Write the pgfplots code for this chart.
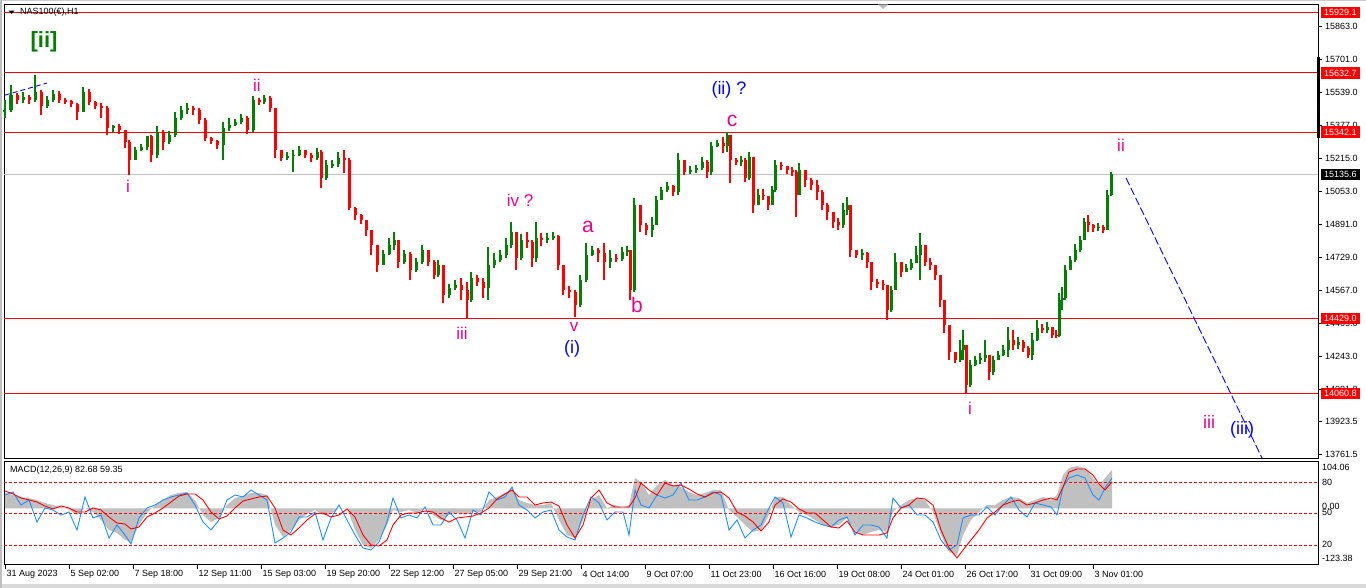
\documentclass[border=0pt]{standalone}
\usepackage{pgfplots}
\pgfplotsset{compat=1.18}
\usepackage{pgfplotstable}
\usepackage{fontspec}
\setmainfont{Liberation Sans}
\definecolor{upc}{RGB}{0,128,0}
\definecolor{dnc}{RGB}{255,0,0}
\definecolor{silv}{RGB}{192,192,192}
\definecolor{macdblue}{RGB}{30,144,255}
\definecolor{wavegreen}{RGB}{0,128,0}

\pgfplotstableread{
x o h l c
5 15441 15500 15412 15451
11 15451 15574 15441 15525
17 15525 15534 15480 15500
23 15500 15539 15485 15515
29 15515 15525 15480 15500
35 15500 15623 15490 15539
41 15539 15549 15427 15471
47 15471 15520 15461 15500
53 15500 15549 15490 15529
59 15529 15544 15485 15500
65 15500 15510 15480 15495
71 15495 15500 15466 15480
77 15480 15485 15402 15441
83 15441 15564 15441 15539
89 15539 15554 15476 15490
95 15490 15495 15456 15471
101 15471 15485 15412 15461
107 15461 15471 15329 15363
113 15363 15378 15343 15373
119 15373 15382 15333 15353
125 15353 15353 15265 15294
129 15294 15304 15133 15206
135 15206 15270 15206 15255
141 15255 15284 15250 15270
147 15270 15324 15255 15324
151 15324 15329 15196 15231
157 15231 15373 15216 15343
163 15343 15353 15255 15294
169 15294 15348 15284 15329
175 15329 15441 15319 15412
181 15412 15471 15402 15451
187 15451 15485 15431 15461
193 15461 15471 15427 15451
199 15451 15461 15382 15402
205 15402 15412 15299 15314
211 15314 15319 15284 15299
217 15299 15304 15260 15280
223 15280 15392 15206 15363
229 15363 15412 15348 15378
235 15378 15407 15373 15392
241 15392 15431 15382 15412
247 15412 15422 15333 15353
253 15353 15520 15343 15500
259 15500 15510 15476 15490
264 15490 15525 15480 15510
270 15510 15520 15441 15461
275 15461 15461 15216 15255
281 15255 15255 15201 15216
287 15216 15245 15206 15226
293 15226 15255 15147 15231
299 15231 15275 15226 15255
305 15255 15255 15216 15231
311 15231 15240 15196 15216
317 15216 15265 15206 15245
321 15245 15255 15069 15118
326 15118 15206 15108 15182
332 15182 15206 15167 15186
338 15186 15245 15172 15216
344 15216 15255 15142 15206
349 15206 15216 14961 14971
355 14971 14976 14912 14937
361 14937 14941 14892 14912
366 14912 14912 14834 14863
371 14863 14863 14741 14790
377 14790 14790 14657 14692
383 14692 14765 14692 14745
389 14745 14824 14741 14790
394 14790 14853 14765 14814
398 14814 14814 14677 14706
404 14706 14765 14696 14745
410 14745 14755 14618 14667
416 14667 14726 14657 14706
422 14706 14790 14696 14765
428 14765 14765 14687 14706
434 14706 14716 14623 14643
438 14643 14716 14633 14692
443 14692 14692 14505 14545
449 14545 14598 14530 14579
455 14579 14618 14569 14594
461 14594 14628 14520 14569
467 14569 14608 14432 14520
471 14520 14657 14510 14628
477 14628 14643 14589 14608
483 14608 14628 14530 14579
488 14579 14780 14520 14692
494 14692 14750 14677 14716
500 14716 14765 14706 14741
506 14741 14824 14726 14790
511 14790 14902 14775 14853
516 14853 14853 14667 14726
521 14726 14843 14716 14814
527 14814 14853 14775 14804
532 14804 14814 14682 14726
536 14726 14902 14706 14824
541 14824 14848 14785 14814
547 14814 14848 14799 14824
553 14824 14853 14814 14834
558 14834 14839 14667 14692
563 14692 14692 14545 14569
569 14569 14589 14530 14559
575 14559 14569 14437 14496
580 14496 14643 14486 14618
586 14618 14799 14608 14741
592 14741 14785 14736 14765
598 14765 14775 14706 14750
604 14750 14799 14618 14706
610 14706 14765 14677 14726
616 14726 14745 14706 14721
622 14721 14780 14711 14755
627 14755 14785 14736 14765
630 14765 14765 14520 14569
634 14569 15020 14559 14986
640 14986 14986 14853 14888
646 14888 14897 14839 14863
652 14863 14927 14829 14888
656 14888 15030 14888 15010
661 15010 15074 15010 15059
667 15059 15098 15049 15079
673 15079 15084 15030 15049
678 15049 15240 15035 15206
684 15206 15206 15133 15147
690 15147 15177 15137 15157
696 15157 15182 15142 15167
702 15167 15221 15157 15196
707 15196 15206 15118 15147
711 15147 15294 15133 15275
717 15275 15304 15270 15289
723 15289 15319 15240 15275
727 15275 15343 15245 15329
730 15329 15329 15093 15206
736 15206 15216 15182 15196
741 15196 15226 15177 15206
745 15206 15216 15098 15118
749 15118 15245 15108 15221
753 15221 15221 14946 14986
758 14986 15064 14986 15035
763 15035 15064 15010 15030
768 15030 15030 14961 14986
772 14986 15079 14986 15059
775 15059 15206 15049 15182
781 15182 15196 15157 15177
787 15177 15177 15137 15157
792 15157 15172 15128 15147
796 15147 15157 14927 15035
799 15035 15191 15035 15157
805 15157 15157 15074 15108
811 15108 15118 15059 15084
817 15084 15108 15010 15049
822 15049 15059 14961 14986
827 14986 14995 14912 14951
833 14951 14951 14873 14902
838 14902 14922 14863 14888
843 14888 14995 14873 14961
847 14961 15025 14937 14986
850 14986 14986 14731 14765
856 14765 14765 14726 14741
862 14741 14770 14716 14750
867 14750 14755 14677 14706
871 14706 14706 14569 14608
877 14608 14623 14579 14598
883 14598 14618 14569 14594
887 14594 14594 14422 14471
891 14471 14589 14461 14569
895 14569 14750 14569 14706
901 14706 14706 14633 14657
906 14657 14696 14657 14677
911 14677 14721 14667 14701
916 14701 14785 14701 14741
920 14741 14848 14618 14790
925 14790 14790 14687 14706
930 14706 14726 14667 14692
935 14692 14692 14618 14643
940 14643 14643 14486 14520
944 14520 14520 14358 14398
949 14398 14398 14226 14265
955 14265 14265 14211 14226
960 14226 14324 14216 14275
963 14275 14373 14226 14300
966 14300 14300 14059 14104
970 14104 14226 14094 14202
975 14202 14246 14197 14226
980 14226 14260 14206 14236
985 14236 14324 14216 14251
989 14251 14251 14128 14167
993 14167 14246 14153 14226
998 14226 14270 14226 14251
1003 14251 14300 14246 14275
1008 14275 14388 14241 14324
1013 14324 14373 14275 14300
1018 14300 14339 14280 14314
1023 14314 14324 14265 14285
1028 14285 14295 14236 14251
1032 14251 14358 14226 14324
1037 14324 14422 14319 14383
1042 14383 14402 14358 14373
1047 14373 14412 14358 14388
1052 14388 14388 14334 14349
1056 14349 14373 14334 14344
1059 14344 14554 14339 14520
1062 14520 14584 14471 14530
1065 14530 14692 14520 14667
1070 14667 14736 14667 14716
1075 14716 14794 14706 14765
1080 14765 14834 14755 14814
1084 14814 14922 14814 14902
1088 14902 14937 14853 14888
1093 14888 14892 14853 14873
1098 14873 14897 14858 14878
1103 14878 14887 14848 14863
1107 14863 15059 14863 15035
1111 15035 15147 15030 15136
}\candles

\pgfplotstableread{
x g b r
5 34.2 29.7 38.6
13 29.7 36.4 32.0
21 25.3 7.5 23.1
29 23.1 18.6 18.6
37 18.6 -30.2 14.2
45 12.0 0.9 5.3
53 7.5 -3.6 -1.3
61 3.1 -14.6 5.3
69 -3.6 -8.0 0.9
77 -14.6 -47.9 -8.0
85 0.9 25.3 -8.0
93 -8.0 -21.3 0.9
101 -25.7 -14.6 -3.6
109 -47.9 -65.7 -19.1
117 -54.6 -36.8 -32.4
125 -70.1 -59.0 -34.6
131 -74.6 -79.0 -45.7
139 -36.8 -21.3 -41.3
147 -10.2 0.9 -19.1
155 7.5 7.5 -10.2
163 18.6 18.6 0.9
171 29.7 25.3 14.2
179 34.2 29.7 27.5
187 36.4 34.2 32.0
195 18.6 7.5 32.0
203 -14.6 -30.2 18.6
211 -30.2 -47.9 -8.0
219 -21.3 -25.7 -23.5
227 7.5 18.6 -16.9
235 23.1 29.7 0.9
243 27.5 25.3 16.4
251 34.2 40.8 20.9
259 34.2 29.7 25.3
267 29.7 18.6 27.5
275 -36.8 -76.8 0.9
283 -63.5 -65.7 -47.9
291 -47.9 -52.4 -59.0
299 -25.7 -19.1 -43.5
307 -12.4 -19.1 -25.7
315 -3.6 -8.0 -12.4
323 -14.6 -70.1 -10.2
331 -12.4 -21.3 -19.1
339 0.9 7.5 -14.6
347 0.9 -25.7 -1.3
355 -47.9 -59.0 -19.1
363 -81.2 -87.9 -59.0
371 -87.9 -92.3 -81.2
379 -70.1 -74.6 -83.4
387 -36.8 -30.2 -70.1
393 -3.6 23.1 -36.8
401 -8.0 -21.3 -14.6
409 -3.6 -14.6 -10.2
417 -10.2 -21.3 -10.2
425 0.9 3.1 -5.8
433 -14.6 -36.8 -8.0
441 -25.7 -36.8 -21.3
449 -14.6 -8.0 -30.2
457 -10.2 -25.7 -21.3
465 -14.6 -65.7 -19.1
473 -8.0 -3.6 -16.9
481 -8.0 -14.6 -10.2
489 18.6 36.4 0.9
497 25.3 18.6 20.9
505 34.2 25.3 32.0
512 45.3 47.5 40.8
519 18.6 7.5 25.3
527 12.0 -3.6 25.3
535 7.5 -21.3 7.5
543 7.5 -8.0 12.0
551 12.0 -3.6 14.2
559 -25.7 -47.9 5.3
567 -59.0 -63.5 -36.8
575 -65.7 -70.1 -65.7
583 -25.7 -14.6 -36.8
591 18.6 25.3 23.1
599 29.7 12.0 40.8
607 0.9 -25.7 12.0
615 7.5 -8.0 3.1
623 0.9 -8.0 3.1
629 7.5 -59.0 3.1
635 67.5 40.8 23.1
641 58.6 7.5 56.4
649 29.7 0.9 40.8
657 51.9 29.7 29.7
665 63.0 23.1 56.4
673 51.9 29.7 49.7
681 47.5 56.4 51.9
689 36.4 18.6 43.0
697 29.7 18.6 32.0
705 34.2 25.3 25.3
713 40.8 36.4 34.2
721 40.8 29.7 36.4
729 -3.6 -47.9 23.1
737 -19.1 -25.7 -8.0
745 -36.8 -65.7 -16.9
753 -52.4 -47.9 -30.2
761 -47.9 -36.8 -50.1
769 -14.6 0.9 -30.2
775 25.3 25.3 7.5
783 25.3 12.0 20.9
791 7.5 -63.5 14.2
799 -8.0 -14.6 -1.3
807 -14.6 -21.3 -10.2
815 -25.7 -30.2 -10.2
823 -36.8 -36.8 -25.7
831 -41.3 -41.3 -41.3
839 -36.8 -25.7 -43.5
847 -21.3 -19.1 -28.0
855 -47.9 -59.0 -52.4
863 -59.0 -36.8 -59.0
871 -52.4 -36.8 -59.0
879 -47.9 -41.3 -59.0
887 -52.4 -65.7 -54.6
893 -8.0 23.1 -21.3
901 7.5 0.9 0.9
909 18.6 7.5 7.5
917 23.1 -14.6 23.1
925 18.6 -14.6 20.9
933 -8.0 -30.2 7.5
941 -59.0 -70.1 -47.9
949 -96.7 -92.3 -87.9
957 -103.4 -81.2 -110.0
963 -59.0 -21.3 -92.3
971 -25.7 -14.6 -70.1
979 -8.0 -14.6 -47.9
987 7.5 3.1 -21.3
995 7.5 -14.6 -8.0
1003 18.6 7.5 7.5
1011 25.3 25.3 14.2
1019 23.1 -3.6 18.6
1027 12.0 -19.1 7.5
1035 18.6 12.0 12.0
1043 25.3 7.5 18.6
1051 18.6 3.1 23.1
1057 29.7 -14.6 18.6
1063 74.1 47.5 47.5
1069 89.6 67.5 80.8
1077 94.1 74.1 87.4
1085 89.6 67.5 87.4
1093 67.5 29.7 74.1
1099 51.9 18.6 54.1
1105 67.5 45.3 40.8
1112 85.2 67.5 58.6
}\macd

\tikzset{
  lbl/.style={inner sep=0pt, font=\fontsize{9}{10}\selectfont},
  wavem/.style={inner sep=0pt, text=magenta, font=\fontsize{17}{17}\selectfont},
  waveb/.style={inner sep=0pt, text=blue, font=\fontsize{18}{18}\selectfont},
  rbox/.style={anchor=west, fill=red, text=white, inner xsep=3.5pt, inner ysep=0pt, minimum height=11.5pt, font=\fontsize{9}{10}\selectfont},
}

\begin{document}
\begin{tikzpicture}
\fill[white] (0pt,0pt) rectangle (1366pt,-588pt);
\fill[gray!30] (0pt,-584pt) rectangle (1366pt,-588pt);
\fill[gray!40] (0pt,0pt) rectangle (1366pt,-1.5pt);
\fill[gray!50] (0pt,0pt) rectangle (1.5pt,-588pt);

% ---------------- main price panel ----------------
\begin{axis}[
  at={(4pt,-4pt)}, anchor=north west,
  scale only axis, width=1314pt, height=454pt,
  xmin=4, xmax=1318, ymin=13745.8, ymax=15970.4,
  xtick=\empty, ytick=\empty,
  axis line style={line width=0.8pt},
  clip=false,
]
% horizontal levels
\addplot[silv, line width=0.9pt] coordinates {(4,15135.6) (1318,15135.6)};
\addplot[red, line width=0.9pt] coordinates {(4,15929.1) (1318,15929.1)};
\addplot[red, line width=0.9pt] coordinates {(4,15632.7) (1318,15632.7)};
\addplot[red, line width=0.9pt] coordinates {(4,15342.1) (1318,15342.1)};
\addplot[red, line width=0.9pt] coordinates {(4,14429.0) (1318,14429.0)};
\addplot[red, line width=0.9pt] coordinates {(4,14060.8) (1318,14060.8)};

% candles: wicks
\addplot[draw=none, mark=none,
  restrict expr to domain={\thisrow{c}-\thisrow{o}}{0:100000},
  error bars/.cd, y dir=both, y explicit, error mark=none,
  error bar style={draw=upc, line width=1.1pt}]
  table[x=x, y expr={(\thisrow{h}+\thisrow{l})/2}, y error expr={(\thisrow{h}-\thisrow{l})/2}] {\candles};
\addplot[draw=none, mark=none,
  restrict expr to domain={\thisrow{c}-\thisrow{o}}{-100000:-0.01},
  error bars/.cd, y dir=both, y explicit, error mark=none,
  error bar style={draw=dnc, line width=1.1pt}]
  table[x=x, y expr={(\thisrow{h}+\thisrow{l})/2}, y error expr={(\thisrow{h}-\thisrow{l})/2}] {\candles};
% candles: bodies
\addplot[draw=none, mark=none,
  restrict expr to domain={\thisrow{c}-\thisrow{o}}{0:100000},
  error bars/.cd, y dir=both, y explicit, error mark=none,
  error bar style={draw=upc, line width=3pt}]
  table[x=x, y expr={(\thisrow{o}+\thisrow{c})/2}, y error expr={max(abs(\thisrow{c}-\thisrow{o})/2,2)}] {\candles};
\addplot[draw=none, mark=none,
  restrict expr to domain={\thisrow{c}-\thisrow{o}}{-100000:-0.01},
  error bars/.cd, y dir=both, y explicit, error mark=none,
  error bar style={draw=dnc, line width=3pt}]
  table[x=x, y expr={(\thisrow{o}+\thisrow{c})/2}, y error expr={max(abs(\thisrow{c}-\thisrow{o})/2,2)}] {\candles};

% trend lines
\addplot[blue, line width=0.9pt, dash pattern=on 5pt off 3pt] coordinates {(5,15524) (47,15583)};
\addplot[blue, line width=0.9pt, dash pattern=on 8pt off 3pt] coordinates {(1126,15118) (1262,13745.8)};

% title
\fill[black] (axis cs:8.5,15938) -- (axis cs:14.5,15938) -- (axis cs:11.5,15922) -- cycle;
\node[lbl, anchor=west] at (axis cs:20,15929) {NAS100(€),H1};
\fill[gray!55] (axis cs:878,15968) -- (axis cs:888,15968) -- (axis cs:883,15946) -- cycle;

% wave labels
\node[inner sep=0pt, text=wavegreen, font=\fontsize{22}{22}\selectfont\bfseries] at (axis cs:44,15784) {[ii]};
\node[wavem] at (axis cs:128,15076) {i};
\node[wavem] at (axis cs:257,15573) {ii};
\node[wavem] at (axis cs:462,14358) {iii};
\node[wavem] at (axis cs:520,15010) {iv ?};
\node[wavem, font=\fontsize{21}{21}\selectfont] at (axis cs:588,14878) {a};
\node[wavem] at (axis cs:574,14388) {v};
\node[wavem, font=\fontsize{21}{21}\selectfont] at (axis cs:637,14495) {b};
\node[wavem, font=\fontsize{21}{21}\selectfont] at (axis cs:732,15397) {c};
\node[wavem] at (axis cs:1121,15279) {ii};
\node[wavem] at (axis cs:970,13991) {i};
\node[wavem, font=\fontsize{18}{18}\selectfont] at (axis cs:1209,13923) {iii};
\node[waveb] at (axis cs:572,14280) {(i)};
\node[waveb] at (axis cs:729,15549) {(ii) ?};
\node[waveb] at (axis cs:1242,13883) {(iii)};

% right price scale
\draw[line width=2.5pt] (axis cs:1318.5,15711) -- (axis cs:1318.5,15314);
\foreach \v/\t in {15863/15863.0, 15701/15701.0, 15539/15539.0, 15377/15377.0, 15215/15215.0, 15053/15053.0, 14891/14891.0, 14729/14729.0, 14567/14567.0, 14405/14405.0, 14243/14243.0, 14081/14081.0, 13923.5/13923.5, 13761.5/13761.5}{
  \edef\tmp{\noexpand\draw[line width=0.7pt] (axis cs:1318,\v) -- (axis cs:1322,\v);
    \noexpand\node[lbl, anchor=west] at (axis cs:1325,\v) {\t};}
  \tmp
}
\node[rbox] at (axis cs:1320.5,15929.1) {15929.1};
\node[rbox] at (axis cs:1320.5,15632.7) {15632.7};
\node[rbox] at (axis cs:1320.5,15342.1) {15342.1};
\node[rbox, fill=black] at (axis cs:1320.5,15135.6) {15135.6};
\node[rbox] at (axis cs:1320.5,14429.0) {14429.0};
\node[rbox] at (axis cs:1320.5,14060.8) {14060.8};
\end{axis}

% ---------------- MACD panel ----------------
\begin{axis}[
  at={(4pt,-461pt)}, anchor=north west,
  scale only axis, width=1314pt, height=103pt,
  xmin=4, xmax=1318, ymin=-123.4, ymax=105.2,
  xtick=\empty, ytick=\empty,
  axis line style={line width=0.8pt},
  clip=false,
]
\addplot[fill=silv, draw=none] table[x=x, y=g] {\macd} \closedcycle;
\addplot[red, line width=0.8pt, dash pattern=on 3pt off 2pt] coordinates {(4,58.6) (1318,58.6)};
\addplot[red, line width=0.8pt, dash pattern=on 3pt off 2pt] coordinates {(4,-10.2) (1318,-10.2)};
\addplot[red, line width=0.8pt, dash pattern=on 3pt off 2pt] coordinates {(4,-81.2) (1318,-81.2)};
\addplot[macdblue, line width=0.9pt] table[x=x, y=b] {\macd};
\addplot[red, line width=0.9pt] table[x=x, y=r] {\macd};

\node[lbl, anchor=west] at (axis cs:10,85.2) {MACD(12,26,9) 82.68 59.35};

\node[lbl, anchor=west] at (axis cs:1322,90.3) {104.06};
\node[lbl, anchor=west] at (axis cs:1322,58.6) {80};
\node[lbl, anchor=west] at (axis cs:1322,4.5) {0.00};
\node[lbl, anchor=west] at (axis cs:1322,-9.5) {50};
\node[lbl, anchor=west] at (axis cs:1322,-79) {20};
\node[lbl, anchor=west] at (axis cs:1322,-110) {-123.38};

% date axis
\foreach \xx/\t in {5/31 Aug 2023, 69/5 Sep 02:00, 133/7 Sep 18:00, 197/12 Sep 11:00, 261/15 Sep 03:00, 325/19 Sep 20:00, 389/22 Sep 12:00, 453/27 Sep 05:00, 517/29 Sep 21:00, 581/4 Oct 14:00, 645/9 Oct 07:00, 709/11 Oct 23:00, 773/16 Oct 16:00, 837/19 Oct 08:00, 901/24 Oct 01:00, 965/26 Oct 17:00, 1029/31 Oct 09:00, 1093/3 Nov 01:00}{
  \edef\tmp{\noexpand\draw[line width=0.7pt] (axis cs:\xx,-123.4) -- ++(0pt,-5pt);
    \noexpand\node[lbl, anchor=west, yshift=-10pt] at (axis cs:\xx+1.5,-123.4) {\t};}
  \tmp
}
\end{axis}
\end{tikzpicture}
\end{document}
